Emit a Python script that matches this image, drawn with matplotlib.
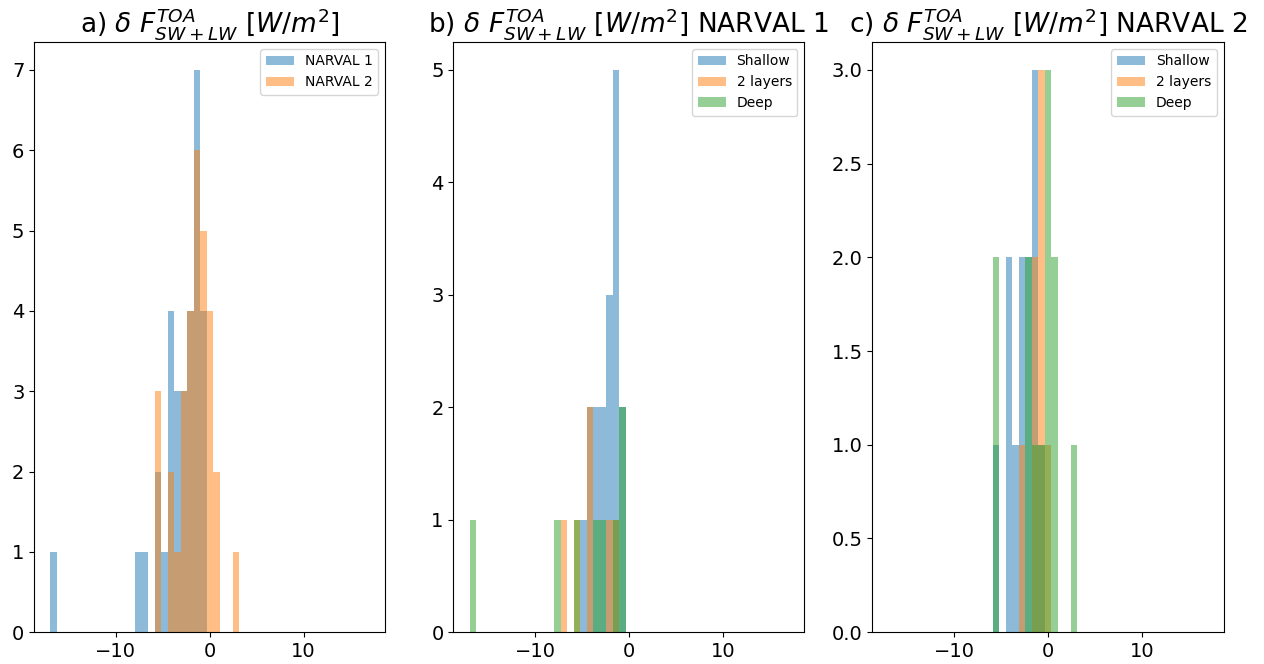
import numpy as np
import matplotlib.pyplot as plt

# common bin edges (29 bins) for all histograms
edges = np.linspace(-16.96, 3.14, 30)
centers = 0.5 * (edges[:-1] + edges[1:])

# counts per bin, NARVAL 1 / NARVAL 2
narval1 = [1, 0, 0, 0, 0, 0, 0, 0, 0, 0, 0, 0, 0, 1, 1,
           0, 2, 1, 4, 3, 3, 4, 7, 4, 0, 0, 0, 0, 0]
narval2 = [0, 0, 0, 0, 0, 0, 0, 0, 0, 0, 0, 0, 0, 0, 0,
           0, 3, 0, 2, 1, 3, 4, 6, 5, 4, 2, 0, 0, 1]

# NARVAL 1 split by cloud type
n1_shallow = [0, 0, 0, 0, 0, 0, 0, 0, 0, 0, 0, 0, 0, 0, 0,
              0, 0, 1, 2, 2, 2, 3, 5, 2, 0, 0, 0, 0, 0]
n1_layers = [0, 0, 0, 0, 0, 0, 0, 0, 0, 0, 0, 0, 0, 0, 1,
             0, 1, 0, 2, 0, 0, 1, 1, 0, 0, 0, 0, 0, 0]
n1_deep = [1, 0, 0, 0, 0, 0, 0, 0, 0, 0, 0, 0, 0, 1, 0,
           0, 1, 0, 0, 1, 1, 0, 1, 2, 0, 0, 0, 0, 0]

# NARVAL 2 split by cloud type
n2_shallow = [0, 0, 0, 0, 0, 0, 0, 0, 0, 0, 0, 0, 0, 0, 0,
              0, 1, 0, 2, 1, 2, 2, 3, 1, 0, 0, 0, 0, 0]
n2_layers = [0, 0, 0, 0, 0, 0, 0, 0, 0, 0, 0, 0, 0, 0, 0,
             0, 0, 0, 0, 0, 1, 0, 2, 3, 1, 0, 0, 0, 0]
n2_deep = [0, 0, 0, 0, 0, 0, 0, 0, 0, 0, 0, 0, 0, 0, 0,
           0, 2, 0, 0, 0, 0, 2, 1, 1, 3, 2, 0, 0, 1]

flux = r'$\delta\ F^{TOA}_{SW+LW}\ [W/m^2]$'
titles = ['a) ' + flux, 'b) ' + flux + ' NARVAL 1', 'c) ' + flux + ' NARVAL 2']

fig, axs = plt.subplots(1, 3, figsize=(12.64, 6.64), dpi=100)
fig.subplots_adjust(left=0.027, right=0.968, top=0.937, bottom=0.048, wspace=0.194)

axs[0].hist(centers, bins=edges, weights=narval1, alpha=0.5, label='NARVAL 1')
axs[0].hist(centers, bins=edges, weights=narval2, alpha=0.5, label='NARVAL 2')

axs[1].hist(centers, bins=edges, weights=n1_shallow, alpha=0.5, label='Shallow')
axs[1].hist(centers, bins=edges, weights=n1_layers, alpha=0.5, label='2 layers')
axs[1].hist(centers, bins=edges, weights=n1_deep, alpha=0.5, label='Deep')

axs[2].hist(centers, bins=edges, weights=n2_shallow, alpha=0.5, label='Shallow')
axs[2].hist(centers, bins=edges, weights=n2_layers, alpha=0.5, label='2 layers')
axs[2].hist(centers, bins=edges, weights=n2_deep, alpha=0.5, label='Deep')

for ax, t in zip(axs, titles):
    ax.set_xlim(-18.7, 18.7)
    ax.set_title(t, fontsize=19)
    ax.tick_params(labelsize=14)
    ax.legend(loc='upper right', fontsize=10)

fig.savefig('out.png')
